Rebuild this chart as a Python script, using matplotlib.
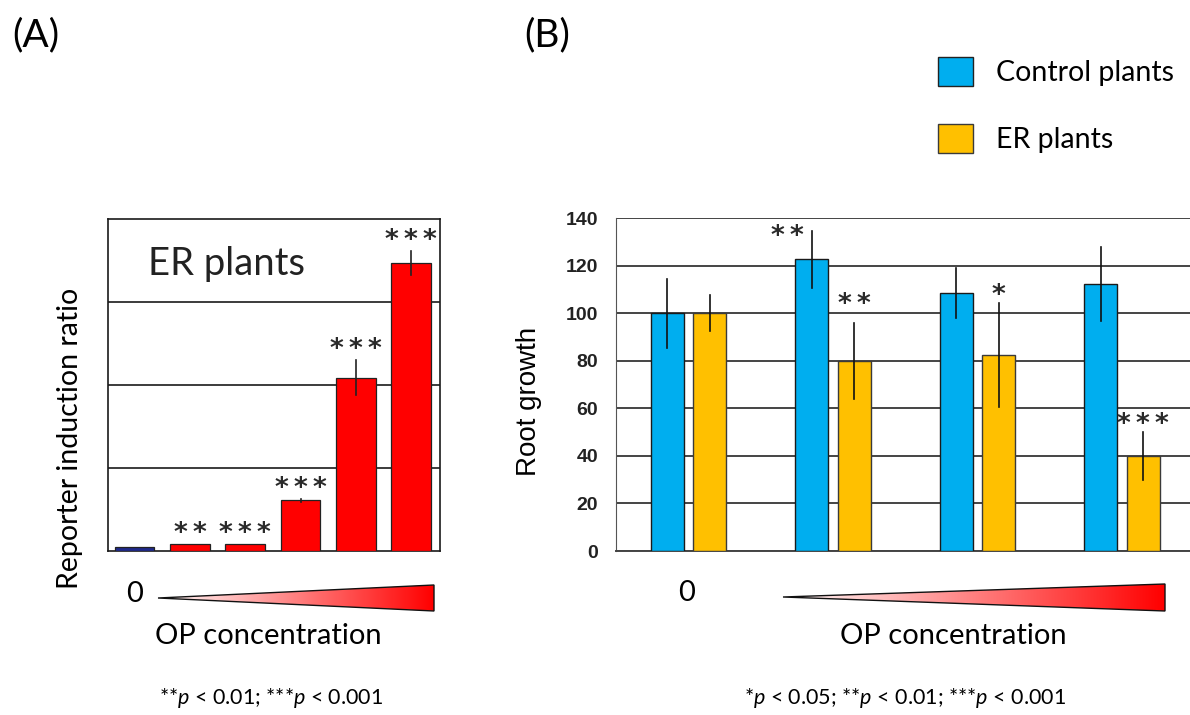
"""Reporter induction (A) and root growth (B) of ER plants under OP."""

import matplotlib
matplotlib.use("Agg")
import matplotlib.pyplot as plt
import numpy as np
from matplotlib.patches import Patch, Polygon

W, H = 1190, 715
CAL = ["Lato", "DejaVu Sans"]
ARIAL = ["Liberation Sans", "DejaVu Sans"]
STAR = ["DejaVu Sans"]

plt.rcParams["mathtext.fontset"] = "custom"
plt.rcParams["mathtext.rm"] = "Lato"
plt.rcParams["mathtext.it"] = "Lato:italic"

# --- panel A: reporter induction ratio (arbitrary units, 4 grid steps)
a_vals = [0.05, 0.09, 0.09, 0.61, 2.09, 3.47]
a_err = [0.0, 0.0, 0.0, 0.02, 0.21, 0.14]
a_stars = ["", "**", "***", "***", "***", "***"]
a_colors = ["#1f2a8c", "#ff0000", "#ff0000", "#ff0000", "#ff0000", "#ff0000"]

# --- panel B: root growth (% of untreated)
b_groups = ["0", "OP1", "OP2", "OP3"]
ctrl_vals = [100, 122.6, 108.6, 112.2]
ctrl_err = [14.5, 12, 10.5, 15.5]
er_vals = [100, 80, 82.4, 40]
er_err = [7.5, 16, 22, 10]
ctrl_stars = ["", "**", "", ""]
er_stars = ["", "**", "*", "***"]
b_ticks = [0, 20, 40, 60, 80, 100, 120, 140]

BLUE = "#00aeef"
ORANGE = "#ffc000"


def add_star(ax, x, y, s, dx=0, dy=10):
    if not s:
        return
    ax.annotate("\u2009".join(s), (x, y), xytext=(dx, dy),
                textcoords="offset pixels", ha="center", va="center",
                fontsize=19, fontweight="bold", family=STAR, color="#2a2a2a")


fig = plt.figure(figsize=(W / 100, H / 100), dpi=100)

# ---------------- panel A
axA = fig.add_axes([108 / W, 1 - 551 / H, (440 - 108) / W, (551 - 219) / H])
xa = np.arange(len(a_vals))
axA.bar(xa, a_vals, width=0.72, color=a_colors, edgecolor="#222222",
        linewidth=0.9, zorder=3)
for x, v, e in zip(xa, a_vals, a_err):
    if e > 0:
        axA.plot([x, x], [v - e, v + e], color="#222222", lw=1.2, zorder=4)
for x, v, e, s in zip(xa, a_vals, a_err, a_stars):
    add_star(axA, x, v + e, s, dy=10)
axA.set_xlim(-0.48, 5.52)
axA.set_ylim(0, 4)
axA.set_yticks([1, 2, 3])
axA.yaxis.grid(True, color="#1a1a1a", lw=1.2)
axA.set_axisbelow(True)
axA.tick_params(left=False, bottom=False, labelleft=False, labelbottom=False)
for sp in axA.spines.values():
    sp.set_color("#1a1a1a")
    sp.set_linewidth(1.2)
axA.text(0.12, 0.865, "ER plants", transform=axA.transAxes, family=CAL,
         fontsize=27.5, va="center", ha="left", color="#222222")

# ---------------- panel B
axB = fig.add_axes([616 / W, 1 - 551 / H, (1190 - 616) / W, (551 - 218) / H])
xb = np.arange(len(b_groups))
off, bw = 0.147, 0.228
axB.bar(xb - off, ctrl_vals, width=bw, color=BLUE, edgecolor="#1a1a1a",
        linewidth=1.0, zorder=3, label="Control plants")
axB.bar(xb + off, er_vals, width=bw, color=ORANGE, edgecolor="#3a3a3a",
        linewidth=1.0, zorder=3, label="ER plants")
for xs, vals, errs in [(xb - off, ctrl_vals, ctrl_err), (xb + off, er_vals, er_err)]:
    for x, v, e in zip(xs, vals, errs):
        axB.plot([x, x], [v - e, v + e], color="#111111", lw=1.2, zorder=4)
for x, v, e, s in zip(xb - off, ctrl_vals, ctrl_err, ctrl_stars):
    add_star(axB, x, v + e, s, dx=-24, dy=-6)
for i, (x, v, e, s) in enumerate(zip(xb + off, er_vals, er_err, er_stars)):
    # the second group's mark sits a little higher in the original
    add_star(axB, x, v + e, s, dy=18 if i == 1 else 7)
axB.set_xlim(-0.5, 3.47)
axB.set_ylim(0, 140)
axB.set_yticks(b_ticks)
axB.set_yticklabels([str(t) for t in b_ticks], family=ARIAL, fontsize=14,
                    fontweight="bold", color="#222222")
axB.yaxis.grid(True, color="#444444", lw=1.4)
axB.set_axisbelow(True)
axB.tick_params(axis="y", length=0, pad=13)
axB.tick_params(axis="x", bottom=False, labelbottom=False)
for side in ["right", "top"]:
    axB.spines[side].set_visible(False)
axB.spines["left"].set_color("#555555")
axB.spines["left"].set_linewidth(0.8)
axB.spines["bottom"].set_color("#444444")
axB.spines["bottom"].set_linewidth(1.4)

handles = [Patch(facecolor=BLUE, edgecolor="#222222", lw=1.0),
           Patch(facecolor=ORANGE, edgecolor="#3a3a3a", lw=1.0)]
fig.legend(handles, ["Control plants", "ER plants"], loc="upper left",
           bbox_to_anchor=(938 / W, 1 - 57 / H), frameon=False,
           prop={"family": CAL, "size": 20.5}, handlelength=1.22,
           handleheight=1.17, handletextpad=0.82, labelspacing=1.35,
           borderpad=0, borderaxespad=0)

# ---------------- overlay: labels, gradients and footnotes (pixel coords)
ov = fig.add_axes([0, 0, 1, 1], zorder=-1)
ov.set_xlim(0, W)
ov.set_ylim(H, 0)
ov.axis("off")

grad = np.linspace(0, 1, 256)[None, :, None]
white = np.array([1.0, 1.0, 1.0])
red = np.array([1.0, 0.0, 0.0])
grad_img = white + (red - white) * grad


def wedge(x0, x1, ytip, ytop, ybot):
    poly = Polygon([(x0, ytip), (x1, ytop), (x1, ybot)], closed=True,
                   facecolor="none", edgecolor="#111111", lw=1.0, zorder=3)
    im = ov.imshow(grad_img, extent=(x0, x1, ybot, ytop), aspect="auto",
                   zorder=2, interpolation="bilinear")
    ov.add_patch(poly)
    im.set_clip_path(poly)


wedge(158, 434, 598, 585, 611)
wedge(783, 1165, 597, 584, 611)
ov.set_xlim(0, W)
ov.set_ylim(H, 0)

ov.text(36, 35, "(A)", family=CAL, fontsize=28, ha="center", va="center")
ov.text(547, 35, "(B)", family=CAL, fontsize=28, ha="center", va="center")
ov.text(135, 594, "0", family=CAL, fontsize=21, ha="center", va="center")
ov.text(687, 593, "0", family=CAL, fontsize=21, ha="center", va="center")
ov.text(268, 636, "OP concentration", family=CAL, fontsize=21,
        ha="center", va="center")
ov.text(953, 636, "OP concentration", family=CAL, fontsize=21,
        ha="center", va="center")
ov.text(70, 438, "Reporter induction ratio", family=CAL, fontsize=20.5,
        rotation=90, ha="center", va="center")
ov.text(529, 401, "Root growth", family=ARIAL, fontsize=20, rotation=90,
        ha="center", va="center")
ov.text(271, 698, r"**$p$ < 0.01; ***$p$ < 0.001", family=CAL,
        fontsize=15.5, ha="center", va="center")
ov.text(905, 698, r"*$p$ < 0.05; **$p$ < 0.01; ***$p$ < 0.001", family=CAL,
        fontsize=15.5, ha="center", va="center")

fig.savefig("out.png", dpi=100)
